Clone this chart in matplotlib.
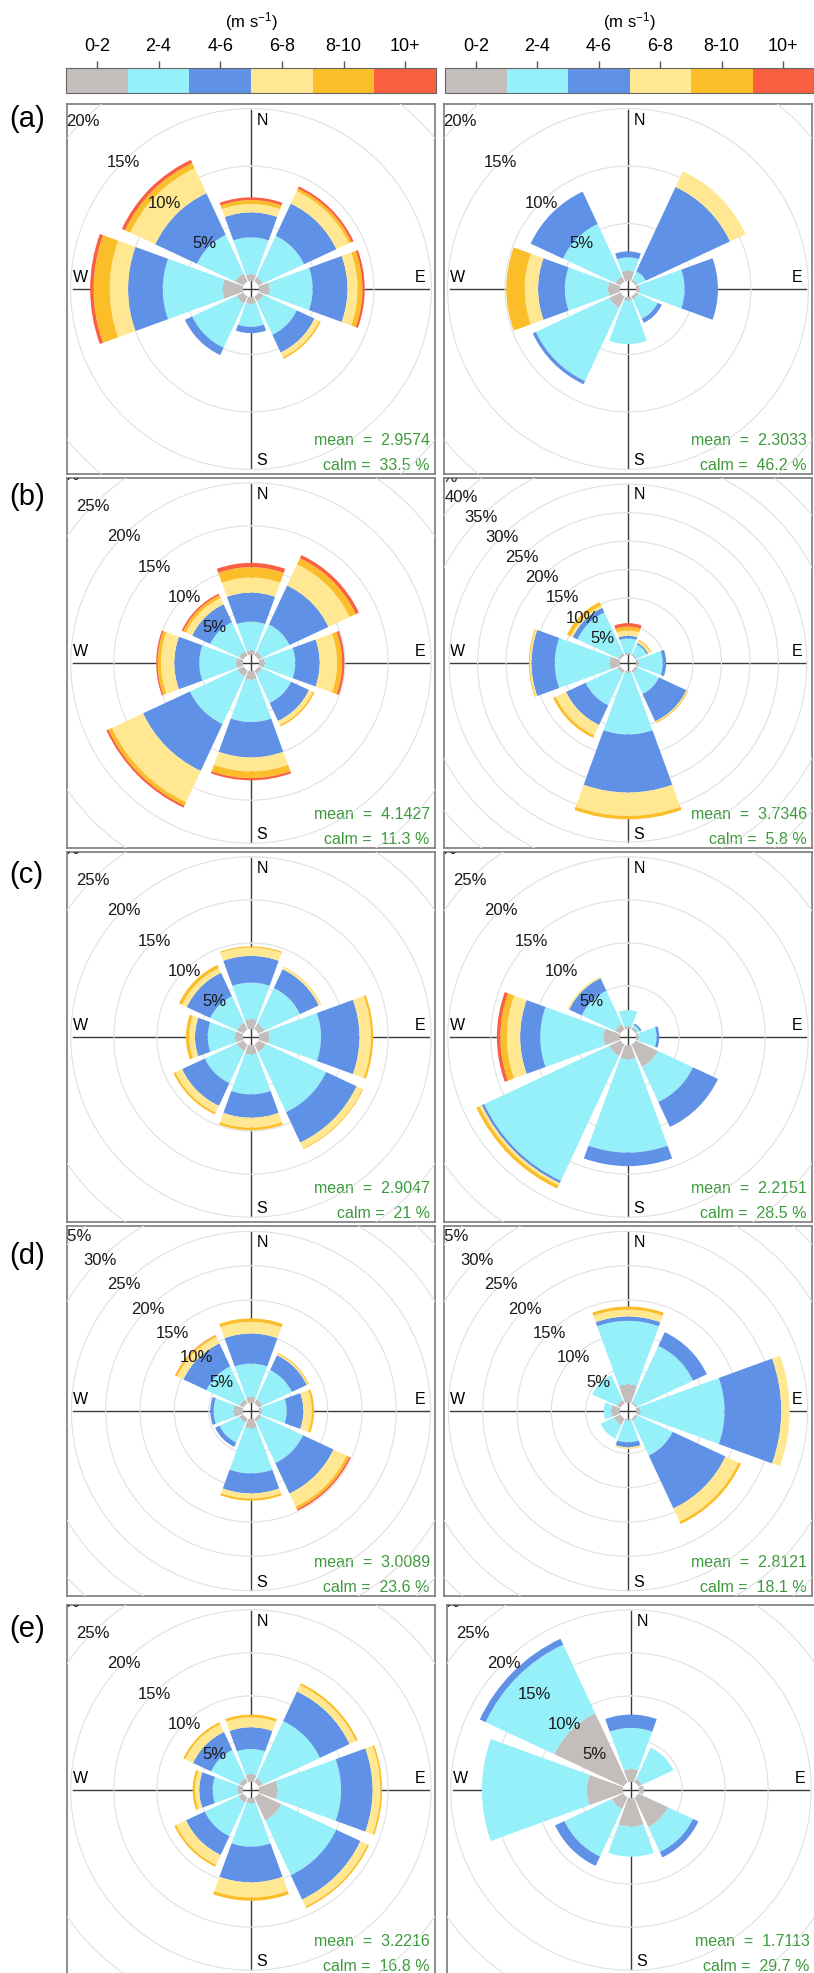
import numpy as np
import matplotlib
matplotlib.use("Agg")
import matplotlib.pyplot as plt
from matplotlib.colors import ListedColormap, BoundaryNorm
from matplotlib.cm import ScalarMappable

plt.rcParams['font.family'] = ['Liberation Sans', 'DejaVu Sans']
plt.rcParams['mathtext.default'] = 'regular'

# speed bins (m/s) and their colours
bins = ['0-2', '2-4', '4-6', '6-8', '8-10', '10+']
bin_colors = ['#c3bebc', '#96f0fa', '#5f91e6', '#ffe891', '#fcbe28', '#fa5f41']
directions = ['N', 'NE', 'E', 'SE', 'S', 'SW', 'W', 'NW']
dir_deg = [0, 45, 90, 135, 180, 225, 270, 315]

# frequency (%) for each direction (rows N..NW) and speed bin (columns)
rose_a1 = [[0.6, 3.2, 2.17, 0.73, 0.34, 0.24],
           [0.45, 3.95, 3.1, 1.2, 0.25, 0.2],
           [0.9, 3.77, 3.03, 0.88, 0.42, 0.2],
           [0.5, 3.2, 1.7, 0.45, 0.15, 0.0],
           [0.6, 2.0, 0.55, 0.0, 0.0, 0.0],
           [0.7, 4.25, 0.7, 0.0, 0.0, 0.0],
           [1.77, 5.21, 3.02, 1.6, 1.4, 0.3],
           [0.8, 3.7, 4.0, 2.4, 0.5, 0.3]]
rose_a2 = [[0.9, 1.16, 0.52, 0.0, 0.0, 0.0],
           [0.2, 0.8, 8.1, 1.5, 0.0, 0.0],
           [0.3, 3.93, 2.9, 0.0, 0.0, 0.0],
           [0.3, 1.85, 0.4, 0.0, 0.0, 0.0],
           [0.3, 3.8, 0.0, 0.0, 0.0, 0.0],
           [1.1, 7.05, 0.3, 0.0, 0.0, 0.0],
           [1.04, 3.76, 2.33, 1.16, 1.6, 0.0],
           [0.5, 5.05, 3.1, 0.0, 0.0, 0.0]]
rose_b1 = [[0.55, 3.33, 3.37, 1.75, 1.2, 0.5],
           [0.5, 3.5, 5.0, 2.7, 0.8, 0.4],
           [0.66, 3.56, 2.83, 2.02, 0.58, 0.27],
           [0.5, 3.7, 2.3, 0.5, 0.2, 0.0],
           [1.0, 4.93, 4.11, 1.62, 0.78, 0.26],
           [0.8, 6.1, 6.0, 4.0, 0.45, 0.25],
           [0.81, 4.27, 2.9, 1.55, 0.39, 0.16],
           [0.6, 3.7, 2.3, 0.8, 0.35, 0.2]]
rose_b2 = [[0.35, 2.55, 0.5, 0.9, 0.7, 0.6],
           [0.3, 1.9, 0.3, 0.4, 0.2, 0.0],
           [0.5, 4.2, 0.6, 0.0, 0.0, 0.0],
           [0.5, 4.1, 5.3, 0.2, 0.15, 0.0],
           [0.35, 10.8, 10.2, 4.1, 0.6, 0.0],
           [0.6, 6.2, 3.8, 2.0, 0.5, 0.0],
           [1.8, 9.65, 4.1, 0.3, 0.15, 0.0],
           [0.5, 7.9, 0.9, 0.4, 0.7, 0.0]]
rose_c1 = [[1.13, 4.26, 3.1, 0.97, 0.14, 0.0],
           [0.8, 4.55, 2.4, 0.25, 0.05, 0.0],
           [1.2, 6.0, 4.47, 1.33, 0.26, 0.0],
           [1.0, 7.7, 3.9, 0.75, 0.1, 0.0],
           [1.09, 4.65, 2.71, 1.15, 0.3, 0.0],
           [0.9, 4.1, 2.9, 0.85, 0.25, 0.0],
           [0.93, 3.17, 1.48, 0.66, 0.39, 0.0],
           [0.9, 3.4, 3.0, 0.6, 0.4, 0.0]]
rose_c2 = [[0.3, 1.9, 0.0, 0.0, 0.0, 0.0],
           [0.3, 0.3, 0.2, 0.0, 0.0, 0.0],
           [0.3, 2.1, 0.3, 0.0, 0.0, 0.0],
           [2.9, 4.5, 3.2, 0.0, 0.0, 0.0],
           [1.67, 10.83, 1.57, 0.0, 0.0, 0.0],
           [1.5, 16.0, 0.3, 0.3, 0.4, 0.0],
           [1.9, 7.36, 2.34, 1.54, 0.76, 0.4],
           [0.7, 4.3, 1.6, 0.2, 0.0, 0.0]]
rose_d1 = [[0.88, 4.86, 4.38, 1.7, 0.5, 0.0],
           [0.7, 4.7, 2.4, 0.2, 0.15, 0.0],
           [0.4, 3.64, 2.43, 1.22, 0.34, 0.0],
           [0.5, 6.7, 4.9, 2.1, 0.4, 0.25],
           [1.36, 6.57, 2.92, 0.73, 0.32, 0.0],
           [0.7, 3.2, 0.7, 0.0, 0.0, 0.0],
           [1.36, 2.92, 0.49, 0.0, 0.0, 0.0],
           [0.7, 5.3, 3.7, 1.0, 0.3, 0.05]]
rose_d2 = [[2.72, 9.25, 0.63, 1.0, 0.46, 0.0],
           [0.3, 9.0, 2.2, 0.0, 0.0, 0.0],
           [0.63, 12.27, 8.27, 1.23, 0.0, 0.0],
           [0.4, 5.6, 8.5, 2.1, 0.4, 0.0],
           [0.25, 3.15, 0.73, 0.25, 0.0, 0.0],
           [1.1, 2.15, 0.0, 0.0, 0.0, 0.0],
           [1.27, 1.1, 0.0, 0.0, 0.0, 0.0],
           [0.6, 4.0, 0.0, 0.0, 0.0, 0.0]]
rose_e1 = [[0.93, 2.91, 2.52, 1.16, 0.31, 0.0],
           [0.6, 7.3, 3.8, 0.8, 0.25, 0.0],
           [2.17, 7.36, 3.67, 0.9, 0.2, 0.0],
           [2.95, 7.05, 3.1, 0.9, 0.2, 0.0],
           [0.62, 5.04, 4.14, 1.75, 0.39, 0.0],
           [0.7, 4.3, 2.4, 1.25, 0.25, 0.0],
           [0.62, 2.91, 1.55, 0.5, 0.27, 0.0],
           [0.6, 3.6, 2.3, 1.0, 0.25, 0.0]]
rose_e2 = [[1.51, 4.77, 1.55, 0.0, 0.0, 0.0],
           [0.5, 4.0, 0.0, 0.0, 0.0, 0.0],
           [0.55, 0.0, 0.0, 0.0, 0.0, 0.0],
           [3.8, 3.2, 0.7, 0.0, 0.0, 0.0],
           [3.33, 3.49, 0.0, 0.0, 0.0, 0.0],
           [1.5, 6.1, 1.2, 0.0, 0.0, 0.0],
           [4.19, 12.2, 0.0, 0.0, 0.0, 0.0],
           [8.9, 8.8, 0.75, 0.0, 0.0, 0.0]]

roses = [[rose_a1, rose_a2], [rose_b1, rose_b2], [rose_c1, rose_c2],
         [rose_d1, rose_d2], [rose_e1, rose_e2]]
panel_letters = ['(a)', '(b)', '(c)', '(d)', '(e)']
means = [[2.9574, 2.3033], [4.1427, 3.7346], [2.9047, 2.2151],
         [3.0089, 2.8121], [3.2216, 1.7113]]
calms = [[33.5, 46.2], [11.3, 5.8], [21, 28.5], [23.6, 18.1], [16.8, 29.7]]
r_limits = [[22.1, 22.1], [29.5, 44.6], [29.5, 29.5], [37.0, 37.0], [29.5, 29.5]]

# layout in pixels
FW, FH = 814, 1974
BOX_W, BOX_H = 368, 370
R_PX = 262
HOLE_PX = 8
row_top = [105, 479, 853, 1227, 1606]
col_left = [[67, 444], [67, 444], [67, 444], [67, 444], [67, 447]]
label_y = [119, 497, 875, 1256, 1629]
green = '#3c9a3c'


def px_rect(x0, y0, w, h):
    return [x0 / FW, 1 - (y0 + h) / FH, w / FW, h / FH]


fig = plt.figure(figsize=(FW / 100, FH / 100), dpi=100)

# colour legends
cmap = ListedColormap(bin_colors)
norm = BoundaryNorm(np.arange(7), 6)
for x0, x1 in [(66, 436), (445, 814)]:
    cax = fig.add_axes(px_rect(x0, 69, x1 - x0, 25))
    cb = fig.colorbar(ScalarMappable(norm=norm, cmap=cmap), cax=cax,
                      orientation='horizontal', ticklocation='top')
    cb.set_ticks(np.arange(6) + 0.5, labels=bins)
    cb.minorticks_off()
    cax.tick_params(length=5, width=1, color='#555555', labelsize=13, pad=5)
    cb.outline.set_edgecolor('#666666')
    fig.text((x0 + x1) / 2 / FW, 1 - 22 / FH, '(m s$^{-1}$)', ha='center',
             va='center', fontsize=12)


def draw_rose(row, col):
    freq = np.array(roses[row][col])
    rmax = r_limits[row][col]
    x0 = col_left[row][col]
    y0 = row_top[row]

    box = fig.add_axes(px_rect(x0, y0, BOX_W, BOX_H))
    box.set_xlim(0, 1)
    box.set_ylim(0, 1)
    box.set_xticks([])
    box.set_yticks([])
    for s in box.spines.values():
        s.set_color('#7a7a7a')
        s.set_linewidth(1.2)
    box.plot([0.5, 0.5], [0.015, 0.985], color='#3a3a3a', lw=1)
    box.plot([0.015, 0.985], [0.5, 0.5], color='#3a3a3a', lw=1)
    box.text(0.515, 0.957, 'N', ha='left', va='center', fontsize=11.5)
    box.text(0.515, 0.04, 'S', ha='left', va='center', fontsize=11.5)
    box.text(0.015, 0.533, 'W', ha='left', va='center', fontsize=11.5)
    box.text(0.975, 0.533, 'E', ha='right', va='center', fontsize=11.5)
    box.text(0.986, 0.094, f'mean  =  {means[row][col]:.4f}', ha='right',
             va='center', fontsize=11.5, color=green)
    box.text(0.986, 0.027, f'calm =  {calms[row][col]:g} %', ha='right',
             va='center', fontsize=11.5, color=green)

    cx = x0 + BOX_W / 2
    cy = y0 + BOX_H / 2
    ax = fig.add_axes(px_rect(cx - R_PX, cy - R_PX, 2 * R_PX, 2 * R_PX),
                      projection='polar')
    ax.set_facecolor('none')
    ax.set_theta_zero_location('N')
    ax.set_theta_direction(-1)
    ax.set_ylim(0, rmax)
    ax.set_rorigin(-rmax * HOLE_PX / (R_PX - HOLE_PX))
    ax.set_xticks([])
    ax.set_yticks(np.arange(5, rmax, 5))
    ax.set_yticklabels([])
    ax.tick_params(axis='y', length=0)
    ax.yaxis.grid(True, color='#e0e0e0', lw=0.8)
    ax.set_axisbelow(True)
    for s in ax.spines.values():
        s.set_color('none')
        s.set_linewidth(0)

    theta = np.deg2rad(dir_deg)
    bottom = np.zeros(len(directions))
    for j in range(len(bins)):
        bars = ax.bar(theta, freq[:, j], width=np.deg2rad(40), bottom=bottom,
                      color=bin_colors[j], edgecolor='none', linewidth=0)
        for b in bars:
            b.set_clip_box(box.bbox)
        bottom += freq[:, j]
    for line in ax.yaxis.get_gridlines():
        line.set_clip_box(box.bbox)

    # ring labels along the NW diagonal, the outermost one cut by the box
    for v in np.arange(5, rmax * 1.07, 5):
        t = ax.text(np.deg2rad(315), v, f'{v:g}%', ha='center', va='center',
                    fontsize=12, color='#1a1a1a', clip_on=True, zorder=5)
        t.set_clip_path(None)
        t.set_clip_box(box.bbox)


for row in range(5):
    for col in range(2):
        draw_rose(row, col)
    fig.text(9 / FW, 1 - label_y[row] / FH, panel_letters[row], ha='left',
             va='center', fontsize=21)

fig.savefig('out.png', dpi=100)
